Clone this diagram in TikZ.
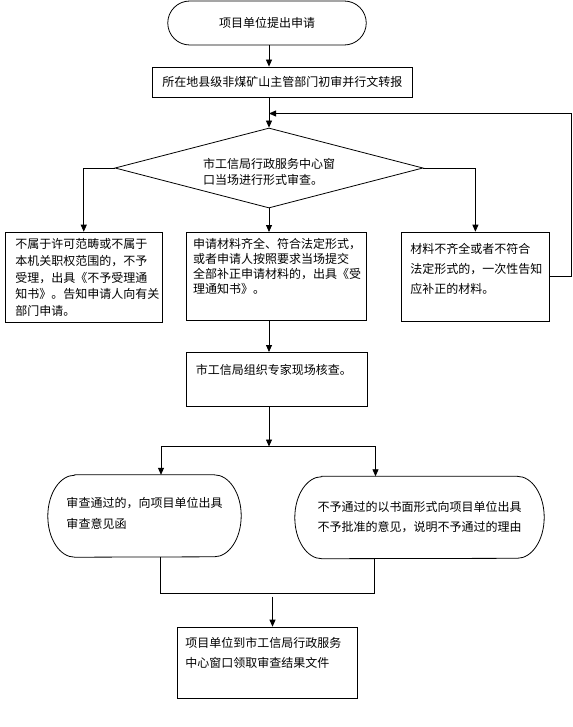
\documentclass[tikz,border=0pt]{standalone}
\usepackage{fontspec}
\setmainfont{Noto Sans CJK SC}
\usetikzlibrary{shapes.geometric, arrows.meta}
\tikzset{
    base/.style = {draw = black, line width = 0.8bp, font = \fontsize{12bp}{17bp}\selectfont},
    lead/.style = {font = \fontsize{12bp}{#1}\selectfont},
    terminal/.style = {base, rectangle, rounded corners = 22bp, minimum width = 198.5bp, minimum height = 44bp, inner sep = 0bp},
    process/.style = {base, rectangle, inner sep = 0bp},
    stepbox/.style = {process, anchor = north west, inner xsep = 8bp, align = left},
    decision/.style = {base, diamond, aspect = 3.9, inner sep = 0bp, minimum width = 308bp, minimum height = 80bp, align = left},
    pill/.style = {rectangle, inner sep = 0bp, minimum height = 82bp, align = left, text height = 12bp,
        font = \fontsize{12bp}{20.5bp}\selectfont,
        append after command = {
            \pgfextra{
                \draw [line width = 0.8bp] ([xshift = 27bp] \tikzlastnode.north west) -- ([xshift = -27bp] \tikzlastnode.north east)
                    arc [start angle = 90, end angle = -90, x radius = 27bp, y radius = 41bp]
                    -- ([xshift = 27bp] \tikzlastnode.south west)
                    arc [start angle = 270, end angle = 90, x radius = 27bp, y radius = 41bp] -- cycle;
            }
        }
    },
    arrow/.style = {line width = 0.8bp, -{Triangle[length = 7bp, width = 6bp]}},
    link/.style = {line width = 0.8bp}
}

\begin{document}
\begin{tikzpicture}[x = 1bp, y = -1bp]
        \useasboundingbox (0, 0) rectangle (573, 727);
        \node [terminal] (1) at (267, 23) {项目单位提出申请};
        \node [process, minimum width = 259.5bp, minimum height = 30bp] (2) at (282.25, 82) {所在地县级非煤矿山主管部门初审并行文转报};
        \node [decision, text width = 132bp, text height = 18bp, text depth = 18bp, lead = 16.7bp] (3) at (269, 168)
            {市工信局行政服务中心窗\\口当场进行形式审查。};
        \node [stepbox, inner xsep = 10bp, text width = 136.7bp, text height = 16.1bp, text depth = 73.9bp, lead = 16.9bp] (4) at (5, 231.7)
            {不属于许可范畴或不属于\\本机关职权范围的，不予\\受理，出具《不予受理通\\知书》。告知申请人向有关\\部门申请。};
        \node [stepbox, inner xsep = 7bp, text width = 165.8bp, text height = 16.5bp, text depth = 71.8bp, lead = 14.7bp] (5) at (185.7, 232)
            {申请材料齐全、符合法定形式，\\或者申请人按照要求当场提交\\全部补正申请材料的，出具《受\\理通知书》。};
        \node [stepbox, inner xsep = 9bp, text width = 130bp, text height = 21.1bp, text depth = 68.2bp, lead = 20bp] (6) at (401, 231.7)
            {材料不齐全或者不符合\\法定形式的，一次性告知\\应补正的材料。};
        \node [stepbox, inner xsep = 9bp, text width = 162.3bp, text height = 22.5bp, text depth = 31.5bp] (7) at (186.4, 352)
            {市工信局组织专家现场核查。};
        \node [pill, minimum width = 193bp, text width = 156bp, text depth = 28.4bp] (8) at (144.5, 516)
            {审查通过的，向项目单位出具\\审查意见函};
        \node [pill, minimum width = 249bp, text width = 204bp, text depth = 24.6bp] (9) at (419.5, 517.5)
            {不予通过的以书面形式向项目单位出具\\不予批准的意见，说明不予通过的理由};
        \node [stepbox, inner xsep = 8.3bp, text width = 163.4bp, text height = 20.5bp, text depth = 51.1bp, lead = 20bp] (10) at (176.7, 626.7)
            {项目单位到市工信局行政服务\\中心窗口领取审查结果文件};
        \coordinate (back) at (571.7, 113.5);
        \coordinate (split) at (269, 446.5);
        \coordinate (splitl) at (161, 446.5);
        \coordinate (splitr) at (375.5, 446.5);
        \coordinate (joinl) at (160.5, 593.5);
        \coordinate (joinr) at (374, 593.5);
        \coordinate (merge) at (272.5, 593.5);
        \draw [arrow] (1.south -| 3.north) -- (3.north |- 2.north);
        \draw [arrow] (3.north |- 2.south) -- (3.north);
        \draw [arrow] (3.west) -| (4.north);
        \draw [arrow] (3.south) -- (3.south |- 5.north);
        \draw [arrow] (3.east) -| (6.north);
        \draw [arrow] (6.east) -| (back) -- (back -| 3.north);
        \draw [arrow] (5.south -| 3.south) -- (3.south |- 7.north);
        \draw [arrow] (7.south -| split) -- (split);
        \draw [link] (splitl) -- (splitr);
        \draw [arrow] (splitl) -- (splitl |- 8.north);
        \draw [arrow] (splitr) -- (splitr |- 9.north);
        \draw [link] (joinl |- 8.south) -- (joinl) -- (joinr) -- (joinr |- 9.south);
        \draw [arrow, shorten <= 3bp] (merge) -- (merge |- 10.north);
\end{tikzpicture}
\end{document}
